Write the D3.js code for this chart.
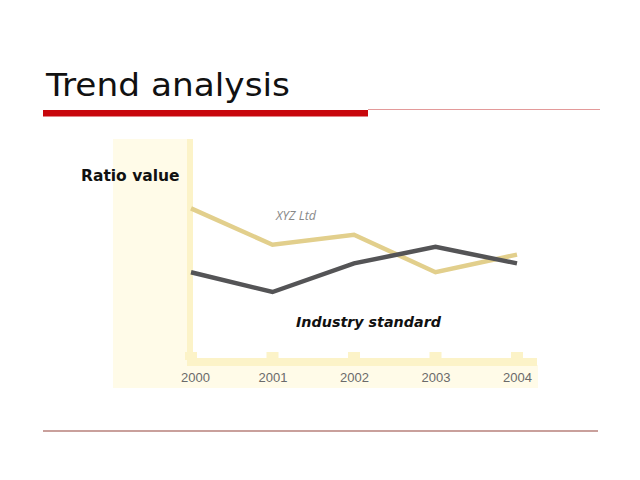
<!DOCTYPE html>
<html><head><meta charset="utf-8">
<script src="https://cdn.jsdelivr.net/npm/d3@7"></script>
<style>body{margin:0;background:#fff}svg{display:block}</style>
</head><body>
<svg id="c" width="640" height="480"></svg>
<script>
const years = ["2000","2001","2002","2003","2004"];
const xyzLtd = [6.8, 5.15, 5.6, 3.9, 4.7];
const industryStandard = [3.9, 3.0, 4.3, 5.05, 4.3];
const seriesNames = ["XYZ Ltd", "Industry standard"];

const svg = d3.select("#c");
const x = d3.scalePoint().domain(years).range([191, 517]);
const y = d3.scaleLinear().domain([0, 10]).range([358, 138]);

// Title and rules
svg.append("text").attr("x",46).attr("y",96).text("Trend analysis")
  .attr("font-family","DejaVu Sans").attr("font-size",32).attr("fill","#111")
  .attr("textLength",244).attr("lengthAdjust","spacingAndGlyphs");
svg.append("line").attr("x1",368).attr("x2",600).attr("y1",109.5).attr("y2",109.5)
  .attr("stroke","#e39a9a").attr("stroke-width",1);
svg.append("rect").attr("x",43).attr("y",110).attr("width",325).attr("height",6.5).attr("fill","#c8070c");
svg.append("line").attr("x1",43).attr("x2",598).attr("y1",431).attr("y2",431)
  .attr("stroke","#c9a09c").attr("stroke-width",2);

// pale background areas
svg.append("rect").attr("x",113).attr("y",139).attr("width",78).attr("height",249).attr("fill","#fffbe8");
svg.append("rect").attr("x",113).attr("y",365).attr("width",425).attr("height",23).attr("fill","#fffbe8");
// axis bands
svg.append("rect").attr("x",187).attr("y",139).attr("width",6).attr("height",226).attr("fill","#fcf3c8");
svg.append("rect").attr("x",187).attr("y",358).attr("width",350).attr("height",8).attr("fill","#fcf3c8");
svg.selectAll("rect.tk").data(years).join("rect").attr("class","tk")
  .attr("x",d=>x(d)-6).attr("y",352).attr("width",12).attr("height",8).attr("fill","#fcf3c8");

// x axis labels via d3 axis
const ax = svg.append("g").attr("transform","translate(0,367)")
  .call(d3.axisBottom(x).tickSize(0).tickPadding(6));
ax.select(".domain").remove();
ax.selectAll("text").attr("font-family","Liberation Sans").attr("font-size",13).attr("fill","#6a6a6a")
  .attr("dx",(d,i)=>i===0?4:0);

// lines
const line = d3.line().x((d,i)=>x(years[i])).y(d=>y(d));
svg.append("path").datum(xyzLtd).attr("d",line).attr("fill","none")
  .attr("stroke","#e2cf8c").attr("stroke-width",4.5);
svg.append("path").datum(industryStandard).attr("d",line).attr("fill","none")
  .attr("stroke","#545456").attr("stroke-width",4.5);

// labels
svg.append("text").attr("x",81).attr("y",181).text("Ratio value")
  .attr("font-family","DejaVu Sans").attr("font-weight","bold").attr("font-size",15.5).attr("fill","#111");
svg.append("text").attr("x",276).attr("y",220).text(seriesNames[0])
  .attr("font-family","Open Sans").attr("font-style","italic").attr("font-size",12.5).attr("fill","#888");
svg.append("text").attr("x",296).attr("y",327).text(seriesNames[1])
  .attr("font-family","DejaVu Sans").attr("font-style","italic").attr("font-weight","bold").attr("font-size",14.3).attr("fill","#111");
</script>
</body></html>
